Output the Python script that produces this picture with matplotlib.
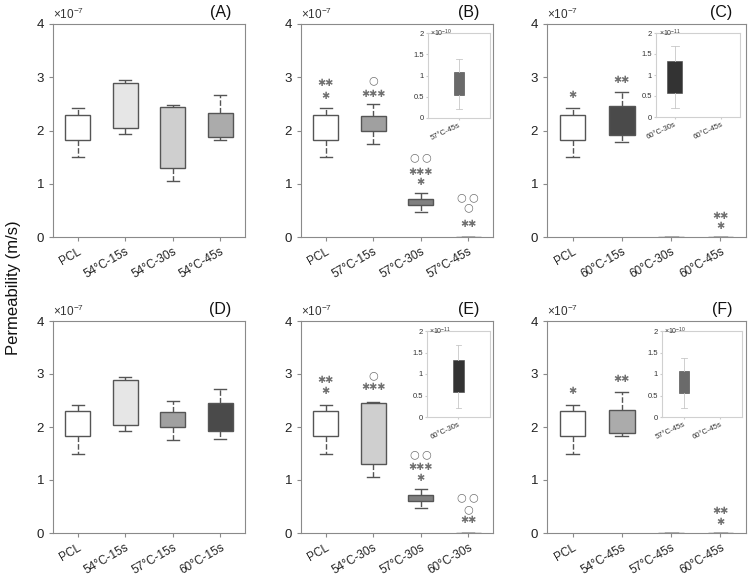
import matplotlib
matplotlib.use('Agg')
import matplotlib.pyplot as plt

plt.rcParams['font.family'] = ['Liberation Sans', 'DejaVu Sans']
plt.rcParams['mathtext.fontset'] = 'custom'
plt.rcParams['mathtext.rm'] = 'Liberation Sans'
plt.rcParams['mathtext.default'] = 'regular'

# box stats in m/s: whisker low, q1, q3, whisker high
pcl = [1.50e-7, 1.83e-7, 2.30e-7, 2.42e-7]
t54_15 = [1.93e-7, 2.04e-7, 2.89e-7, 2.95e-7]
t54_30 = [1.05e-7, 1.30e-7, 2.45e-7, 2.48e-7]
t54_45 = [1.83e-7, 1.88e-7, 2.33e-7, 2.66e-7]
t57_15 = [1.75e-7, 2.00e-7, 2.28e-7, 2.50e-7]
t57_30 = [0.47e-7, 0.60e-7, 0.72e-7, 0.83e-7]
t57_45 = [0.22e-10, 0.55e-10, 1.08e-10, 1.38e-10]
t60_15 = [1.78e-7, 1.92e-7, 2.46e-7, 2.72e-7]
t60_30 = [0.22e-11, 0.58e-11, 1.33e-11, 1.68e-11]
t60_45 = [0.2e-13, 0.3e-13, 0.5e-13, 0.6e-13]

groups = {'PCL': pcl, '54°C-15s': t54_15, '54°C-30s': t54_30, '54°C-45s': t54_45,
          '57°C-15s': t57_15, '57°C-30s': t57_30, '57°C-45s': t57_45,
          '60°C-15s': t60_15, '60°C-30s': t60_30, '60°C-45s': t60_45}
fills = {'PCL': 'white', '54°C-15s': '#e6e6e6', '54°C-30s': '#cfcfcf', '54°C-45s': '#ababab',
         '57°C-15s': '#a0a0a0', '57°C-30s': '#808080', '57°C-45s': '#6a6a6a',
         '60°C-15s': '#4a4a4a', '60°C-30s': '#333333', '60°C-45s': '#333333'}

cats_a = ['PCL', '54°C-15s', '54°C-30s', '54°C-45s']
cats_b = ['PCL', '57°C-15s', '57°C-30s', '57°C-45s']
cats_c = ['PCL', '60°C-15s', '60°C-30s', '60°C-45s']
cats_d = ['PCL', '54°C-15s', '57°C-15s', '60°C-15s']
cats_e = ['PCL', '54°C-30s', '57°C-30s', '60°C-30s']
cats_f = ['PCL', '54°C-45s', '57°C-45s', '60°C-45s']

# significance marks: (category index, y in 1e-7, symbols)
marks_b = [(0, 2.89, '**'), (0, 2.65, '*'), (1, 2.95, 'o'), (1, 2.68, '***'),
           (2, 1.49, 'oo'), (2, 1.22, '***'), (2, 1.03, '*'),
           (3, 0.75, 'oo'), (3, 0.55, 'o'), (3, 0.25, '**')]
marks_c = [(0, 2.66, '*'), (1, 2.95, '**'), (3, 0.39, '**'), (3, 0.20, '*')]
marks_e = [(0, 2.89, '**'), (0, 2.67, '*'), (1, 2.97, 'o'), (1, 2.76, '***'),
           (2, 1.49, 'oo'), (2, 1.24, '***'), (2, 1.04, '*'),
           (3, 0.68, 'oo'), (3, 0.45, 'o'), (3, 0.25, '**')]
marks_f = [(0, 2.68, '*'), (1, 2.91, '**'), (3, 0.41, '**'), (3, 0.21, '*')]

W, H = 748, 576
EDGE = '#555555'
SPINE = '#8a8a8a'


def px_axes(fig, x0, y0, x1, y1):
    return fig.add_axes([x0 / W, (H - y1) / H, (x1 - x0) / W, (y1 - y0) / H])


def stats_for(cats, scale):
    out = []
    for c in cats:
        lo, q1, q3, hi = [v / scale for v in groups[c]]
        out.append(dict(whislo=lo, q1=q1, med=q1, q3=q3, whishi=hi, fliers=[], label=c))
    return out


def mark_text(s):
    if 'o' in s:
        return '\u2009'.join('○' for _ in s)
    return '✱' * len(s)


def main_panel(fig, box, cats, letter, marks=()):
    ax = px_axes(fig, *box)
    st = stats_for(cats, 1e-7)
    bp = ax.bxp(st, positions=range(1, len(cats) + 1), widths=0.52, patch_artist=True,
                boxprops=dict(edgecolor=EDGE, linewidth=1.0),
                whiskerprops=dict(color=EDGE, linewidth=1.0, linestyle=(0, (4, 1.5))),
                capprops=dict(color=EDGE, linewidth=1.0),
                medianprops=dict(linewidth=0))
    for patch, c in zip(bp['boxes'], cats):
        patch.set_facecolor(fills[c])
    for i, y, s in marks:
        ax.text(i + 1, y, mark_text(s), ha='center', va='center',
                fontsize=7 if '*' in s else 8, color='#707070',
                family='DejaVu Sans')
    ax.set_xlim(0.48, 4.52)
    ax.set_ylim(0, 4)
    ax.set_yticks([0, 1, 2, 3, 4])
    ax.set_xticks(range(1, 5))
    ax.set_xticklabels(cats, rotation=30, ha='right', rotation_mode='anchor')
    ax.tick_params(axis='y', labelsize=9.5)
    ax.tick_params(axis='x', labelsize=8.5, pad=3)
    ax.tick_params(axis='both', color=SPINE, length=3, labelcolor='#222222')
    for sp in ax.spines.values():
        sp.set_color(SPINE)
    ax.text(0.0, 1.008, r'$\times10^{-7}$', transform=ax.transAxes, ha='left', va='bottom',
            fontsize=8.5, color='#333333')
    ax.text(0.93, 1.02, '(' + letter + ')', transform=ax.transAxes, ha='right', va='bottom',
            fontsize=11.5, color='#111111')
    return ax


def inset_panel(fig, box, cats, scale, exp, xlim, width):
    ax = px_axes(fig, *box)
    st = stats_for(cats, scale)
    bp = ax.bxp(st, positions=range(1, len(cats) + 1), widths=width, patch_artist=True,
                boxprops=dict(edgecolor='#444444', linewidth=0.4),
                whiskerprops=dict(color='#c8c8c8', linewidth=0.6),
                capprops=dict(color='#c8c8c8', linewidth=0.6),
                medianprops=dict(linewidth=0))
    for patch, c in zip(bp['boxes'], cats):
        patch.set_facecolor(fills[c])
    ax.set_xlim(*xlim)
    ax.set_ylim(0, 2)
    ax.set_yticks([0, 0.5, 1, 1.5, 2])
    ax.set_yticklabels(['0', '0.5', '1', '1.5', '2'])
    ax.set_xticks(range(1, len(cats) + 1))
    ax.set_xticklabels(cats, rotation=25, ha='right', rotation_mode='anchor')
    ax.tick_params(axis='both', labelsize=5.5, color='#cccccc', length=1.5, pad=1.5,
                   labelcolor='#333333')
    for sp in ax.spines.values():
        sp.set_color('#d0d0d0')
        sp.set_linewidth(0.8)
    ax.text(0.03, 1.0, r'$\times10^{%d}$' % exp, transform=ax.transAxes, ha='left',
            va='center', fontsize=5, color='#333333')
    return ax


fig = plt.figure(figsize=(W / 100, H / 100), dpi=100)

main_panel(fig, (53, 24, 245, 237), cats_a, 'A')
main_panel(fig, (301, 24, 493, 237), cats_b, 'B', marks_b)
main_panel(fig, (547, 24, 746, 237), cats_c, 'C', marks_c)
main_panel(fig, (53, 321, 245, 533), cats_d, 'D')
main_panel(fig, (301, 321, 493, 533), cats_e, 'E', marks_e)
main_panel(fig, (547, 321, 746, 533), cats_f, 'F', marks_f)

inset_panel(fig, (428, 33, 490, 118), ['57°C-45s'], 1e-10, -10, (0.4, 1.6), 0.21)
inset_panel(fig, (656, 33, 740, 117), ['60°C-30s', '60°C-45s'], 1e-11, -11, (0.6, 2.4), 0.33)
inset_panel(fig, (427, 331, 490, 417), ['60°C-30s'], 1e-11, -11, (0.5, 1.5), 0.16)
inset_panel(fig, (662, 331, 742, 417), ['57°C-45s', '60°C-45s'], 1e-10, -10, (0.39, 2.61), 0.3)

fig.text(0.018, 0.5, 'Permeability (m/s)', rotation=90, ha='center', va='center',
         fontsize=12, color='#111111')

fig.savefig('out.png', dpi=100)
